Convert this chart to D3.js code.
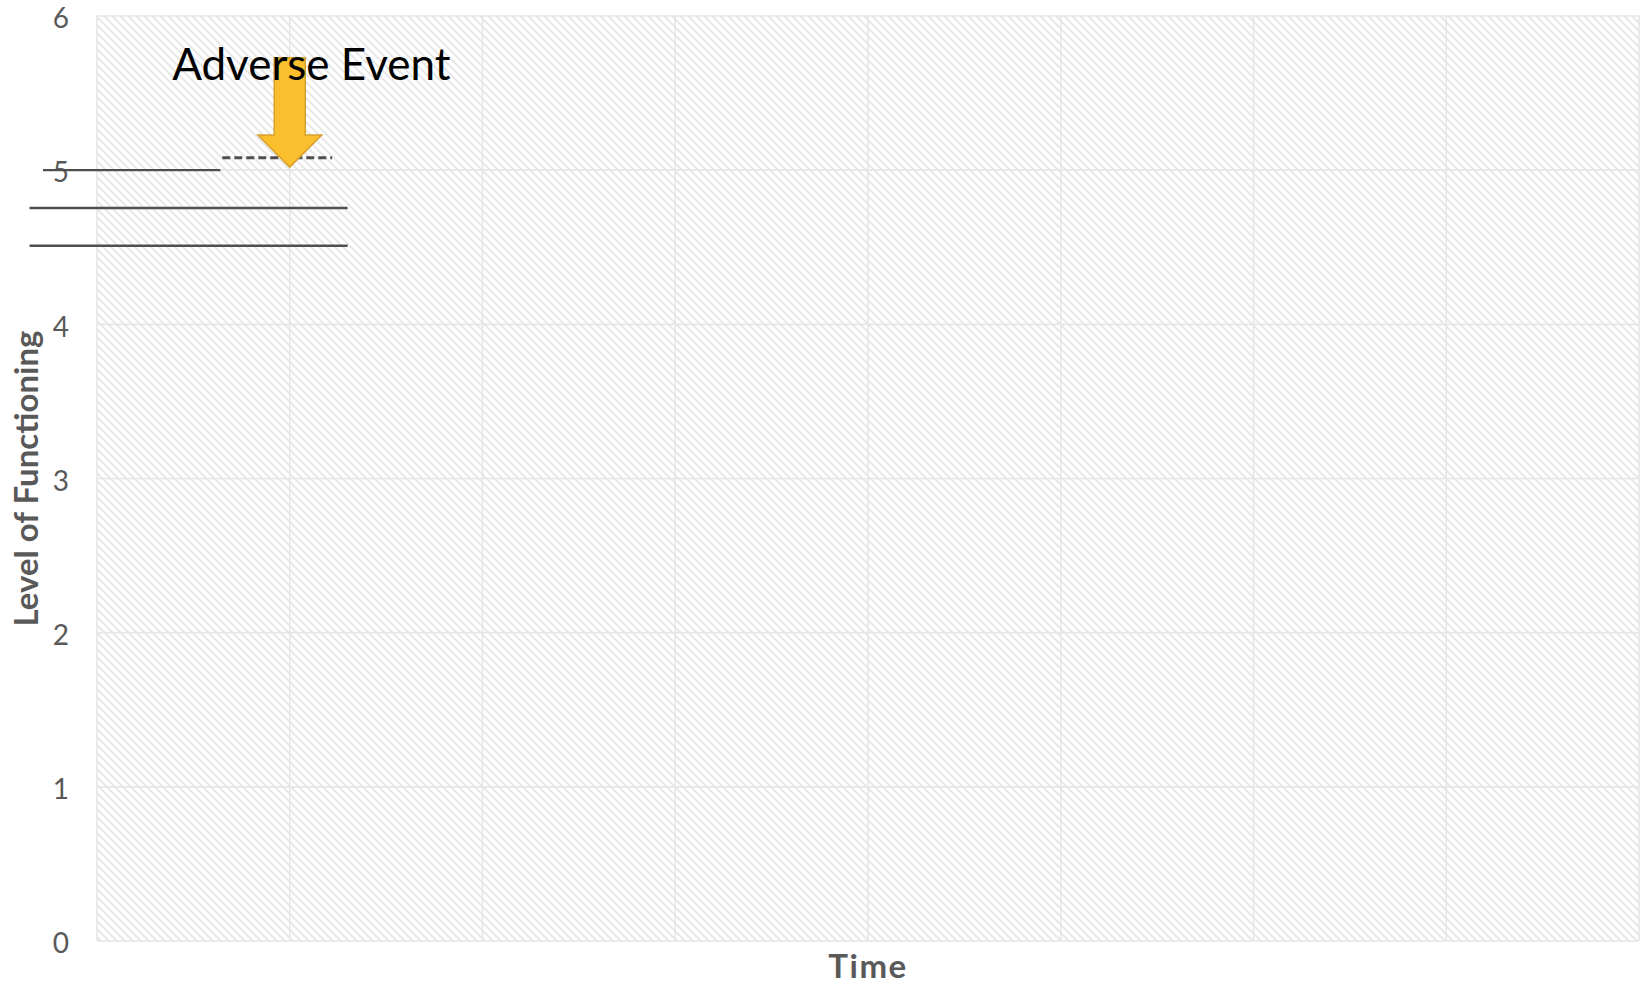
<!DOCTYPE html>
<html>
<head>
<meta charset="utf-8">
<script src="https://cdn.jsdelivr.net/npm/d3@7"></script>
<style>
  html, body { margin: 0; padding: 0; background: #ffffff; }
  svg { display: block; }
</style>
</head>
<body>
<svg id="chart" width="1641" height="985"></svg>
<script>
// ---- data ----
const yTicks = [0, 1, 2, 3, 4, 5, 6];
const timePeriods = [0, 1, 2, 3, 4, 5, 6, 7, 8];
const yTitle = "Level of Functioning";
const xTitle = "Time";
const eventLabel = "Adverse Event";
const eventLabelPos = [0.39, 5.585];
const eventTime = 1.0;
const eventArrowTop = 5.73;
const eventArrowTip = 5.02;
const solidX0 = [-0.28, -0.35, -0.35];
const solidX1 = [0.64, 1.30, 1.30];
const solidY = [5.0, 4.755, 4.51];
const dashedX = [0.65, 1.22];
const dashedY = 5.08;

(function () {
// ---- layout ----
const W = 1641, H = 985;
const m = { left: 97, right: 2, top: 16, bottom: 44 };
const pw = W - m.left - m.right, ph = H - m.top - m.bottom;
const svg = d3.select("#chart");

const x = d3.scaleLinear().domain([0, 8]).range([m.left, m.left + pw]);
const y = d3.scaleLinear().domain([0, 6]).range([m.top + ph, m.top]);

const defs = svg.append("defs");
const pat = defs.append("pattern").attr("id", "hatch")
  .attr("patternUnits", "userSpaceOnUse").attr("width", 8).attr("height", 8);
pat.append("rect").attr("width", 8).attr("height", 8).attr("fill", "#ffffff");
pat.append("path").attr("d", "M0,0 L8,8 M-4,4 L4,12 M4,-4 L12,4")
  .attr("stroke", "#e6e6e6").attr("stroke-width", 1.9);

svg.append("rect").attr("x", x(0)).attr("y", y(6))
  .attr("width", x(8) - x(0)).attr("height", y(0) - y(6))
  .attr("fill", "url(#hatch)");

// gridlines
const grid = svg.append("g");
grid.selectAll("line.h").data(yTicks).join("line")
  .attr("x1", x(0)).attr("x2", x(8))
  .attr("y1", d => y(d)).attr("y2", d => y(d))
  .attr("stroke", "#e6e6e6").attr("stroke-width", 1.6);
grid.selectAll("line.v").data(timePeriods).join("line")
  .attr("y1", y(0)).attr("y2", y(6))
  .attr("x1", d => x(d)).attr("x2", d => x(d))
  .attr("stroke", "#e6e6e6").attr("stroke-width", 1.6);

// y axis labels
const yAxis = d3.axisLeft(y).tickValues(yTicks).tickSize(0).tickPadding(28).tickFormat(d3.format("d"));
const ya = svg.append("g").attr("transform", `translate(${m.left},0)`).call(yAxis);
ya.select(".domain").remove();
ya.selectAll("text").attr("font-family", "Lato, 'Open Sans', sans-serif")
  .attr("font-size", 28).attr("fill", "#595959").attr("dy", "0.42em");

// titles
svg.append("text").attr("transform", `translate(38,${(y(0) + y(6)) / 2}) rotate(-90)`)
  .attr("text-anchor", "middle").attr("font-family", "Lato, sans-serif")
  .attr("font-weight", "bold").attr("font-size", 33).attr("fill", "#595959")
  .text(yTitle);
svg.append("text").attr("x", (x(0) + x(8)) / 2).attr("y", 978)
  .attr("text-anchor", "middle").attr("font-family", "Lato, sans-serif")
  .attr("font-weight", "bold").attr("font-size", 33).attr("letter-spacing", 1.5)
  .attr("fill", "#595959")
  .text(xTitle);

// annotation lines
const segs = solidY.map((v, i) => ({ x0: solidX0[i], x1: solidX1[i], y: v }));
svg.append("g").selectAll("line").data(segs).join("line")
  .attr("x1", d => x(d.x0)).attr("x2", d => x(d.x1))
  .attr("y1", d => y(d.y)).attr("y2", d => y(d.y))
  .attr("stroke", "#4f4f4f").attr("stroke-width", 2.4);
svg.append("line")
  .attr("x1", x(dashedX[0])).attr("x2", x(dashedX[1]))
  .attr("y1", y(dashedY)).attr("y2", y(dashedY))
  .attr("stroke", "#4f4f4f").attr("stroke-width", 3).attr("stroke-dasharray", "8,4");

// arrow
const ax = x(eventTime), aTop = y(eventArrowTop), aTip = y(eventArrowTip);
const headH = 32, sw = 15.5, hw = 32;
const arrowPath = d3.path();
arrowPath.moveTo(ax - sw, aTop);
arrowPath.lineTo(ax + sw, aTop);
arrowPath.lineTo(ax + sw, aTip - headH);
arrowPath.lineTo(ax + hw, aTip - headH);
arrowPath.lineTo(ax, aTip);
arrowPath.lineTo(ax - hw, aTip - headH);
arrowPath.lineTo(ax - sw, aTip - headH);
arrowPath.closePath();
svg.append("path").attr("d", arrowPath.toString())
  .attr("fill", "#fbbf2d").attr("stroke", "#d6a02c").attr("stroke-width", 1.5)
  .attr("stroke-linejoin", "miter");

svg.append("text").attr("x", x(eventLabelPos[0])).attr("y", y(eventLabelPos[1]))
  .attr("font-family", "Lato, sans-serif").attr("font-size", 44).attr("fill", "#000000")
  .text(eventLabel);
})();
</script>
</body>
</html>
